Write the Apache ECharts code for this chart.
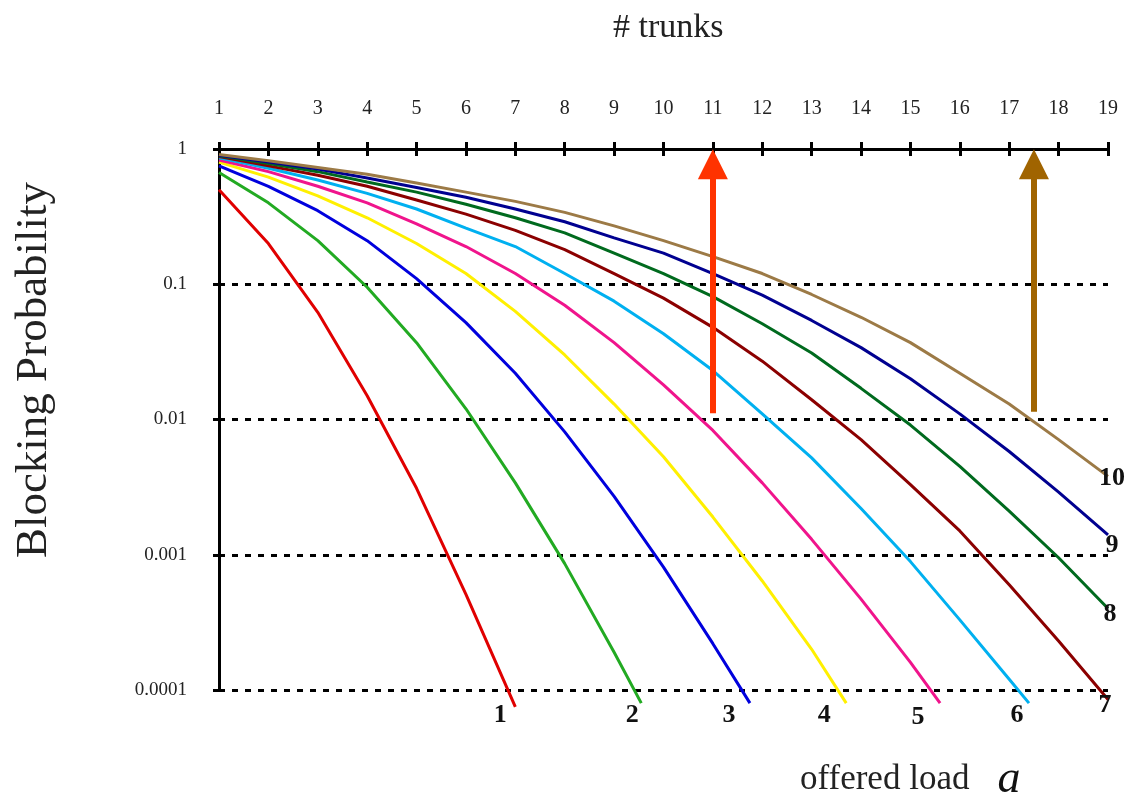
<!DOCTYPE html>
<html>
<head>
    <meta charset="utf-8"/>
    <title>Erlang B</title>
    <script src="https://cdn.jsdelivr.net/npm/echarts@6/dist/echarts.min.js"></script>
    <style>
        html, body { margin: 0; padding: 0; background: #fff; }
    </style>
</head>
<body>
<div id="main" style="width: 1131px; height: 796px;"></div>
<script type="text/javascript">
    // number of trunks on the top axis
    var trunks = [1, 2, 3, 4, 5, 6, 7, 8, 9, 10, 11, 12, 13, 14, 15, 16, 17, 18, 19];
    var yTicks = [0.0001, 0.001, 0.01, 0.1, 1];
    var yTickLabels = ['0.0001', '0.001', '0.01', '0.1', '1'];

    // blocking probability, one value per trunk count (from 1 trunk)
    var load1 = [0.5, 0.2, 0.062, 0.015, 0.0031, 0.00051, 0.000075];
    var load2 = [0.67, 0.40, 0.21, 0.095, 0.037, 0.012, 0.0034, 0.00086, 0.00019];
    var load3 = [0.75, 0.53, 0.35, 0.21, 0.11, 0.052, 0.022, 0.0081, 0.0027, 0.00081, 0.00022];
    var load4 = [0.80, 0.62, 0.45, 0.31, 0.20, 0.12, 0.063, 0.030, 0.013, 0.0053, 0.0019, 0.00064, 0.00020];
    var load5 = [0.83, 0.68, 0.53, 0.40, 0.28, 0.19, 0.12, 0.070, 0.037, 0.018, 0.0083, 0.0034, 0.0013, 0.00047, 0.00016];
    var load6 = [0.86, 0.72, 0.59, 0.47, 0.36, 0.26, 0.19, 0.12, 0.075, 0.043, 0.023, 0.011, 0.0052, 0.0022, 0.00089, 0.00033, 0.00012];
    var load7 = [0.88, 0.75, 0.64, 0.53, 0.42, 0.33, 0.25, 0.18, 0.12, 0.079, 0.048, 0.027, 0.014, 0.0071, 0.0033, 0.0015, 0.0006, 0.00023, 0.000085];
    var load8 = [0.89, 0.78, 0.68, 0.57, 0.48, 0.39, 0.31, 0.24, 0.17, 0.12, 0.081, 0.051, 0.031, 0.017, 0.0091, 0.0045, 0.0021, 0.00095, 0.0004];
    var load9 = [0.90, 0.80, 0.71, 0.61, 0.52, 0.44, 0.36, 0.29, 0.22, 0.17, 0.12, 0.083, 0.054, 0.034, 0.020, 0.011, 0.0058, 0.0029, 0.0014];
    var load10 = [0.91, 0.82, 0.73, 0.65, 0.56, 0.48, 0.41, 0.34, 0.27, 0.21, 0.16, 0.12, 0.084, 0.057, 0.037, 0.022, 0.013, 0.0071, 0.0038];

    // where curves 2..6 run out under the bottom line
    var exitTrunks = [null, 9.55, 11.75, 13.7, 15.6, 17.4, null, null, null, null];
    var exitValue = 0.00008;

    var loadNames = ['1', '2', '3', '4', '5', '6', '7', '8', '9', '10'];

    // the two arrows: trunk position, foot and head of the shaft
    var arrowTrunks = [11, 17.5];
    var arrowFoot = [0.0111, 0.0114];
    var arrowHead = [0.77, 0.77];

    var loads = [load1, load2, load3, load4, load5, load6, load7, load8, load9, load10];
    var colors = ['#E00000', '#22AA22', '#0000DD', '#FFF000', '#F0148C', '#00B0F0',
        '#8B0000', '#006A1E', '#000090', '#9C7A46'];
    var arrowColors = ['#FF3300', '#A06400'];
    // label offset in px from the curve end (held on the bottom line when the end is below it)
    var labelOffsets = [[-15, 26], [-9, 26], [-21, 26], [-22, 26], [-22, 28], [-12, 26],
        [-3, 16], [2, 6], [4, 10], [4, 2]];

    var serif = '"Liberation Serif", "DejaVu Serif", serif';

    var myChart = echarts.init(document.getElementById('main'));

    var series = loads.map(function (vals, i) {
        var pts = vals.map(function (v, k) {
            return [trunks[k], v];
        });
        if (exitTrunks[i] != null) {
            pts.push([exitTrunks[i], exitValue]);
        }
        var last = pts[pts.length - 1];
        var anchor = [last[0], Math.max(last[1], 0.000101)];
        return {
            name: loadNames[i],
            type: 'line',
            data: pts,
            showSymbol: false,
            symbol: 'none',
            clip: false,
            silent: true,
            lineStyle: {color: colors[i], width: 3},
            z: 3,
            markPoint: {
                symbol: 'circle',
                symbolSize: 1,
                silent: true,
                itemStyle: {color: 'rgba(0,0,0,0)'},
                label: {
                    show: true,
                    position: 'inside',
                    offset: labelOffsets[i],
                    formatter: loadNames[i],
                    fontFamily: serif,
                    fontWeight: 'bold',
                    fontSize: 26,
                    color: '#111'
                },
                data: [{coord: anchor}]
            }
        };
    });

    series.push({
        name: 'arrows',
        type: 'line',
        data: [],
        z: 5,
        markLine: {
            silent: true,
            symbol: ['none', 'triangle'],
            symbolSize: [30, 30],
            label: {show: false},
            lineStyle: {type: 'solid', width: 6},
            data: arrowTrunks.map(function (t, i) {
                return [
                    {coord: [t, arrowFoot[i]], lineStyle: {color: arrowColors[i]}, itemStyle: {color: arrowColors[i]}},
                    {coord: [t, arrowHead[i]], itemStyle: {color: arrowColors[i]}}
                ];
            })
        }
    });

    var option = {
        backgroundColor: '#ffffff',
        animation: false,
        title: [
            {
                text: '# trunks',
                left: 608,
                top: 6,
                textStyle: {fontFamily: serif, fontSize: 34, fontWeight: 'normal', color: '#222'}
            },
            {
                text: '{n|offered load}{a|a}',
                left: 795,
                top: 752,
                textStyle: {
                    fontWeight: 'normal',
                    rich: {
                        n: {fontFamily: serif, fontSize: 35, fontWeight: 'normal', color: '#222'},
                        a: {fontFamily: serif, fontSize: 46, fontWeight: 'normal', fontStyle: 'italic', color: '#111', padding: [0, 0, 0, 28]}
                    }
                }
            }
        ],
        graphic: [
            {
                type: 'text',
                x: 34,
                y: 370,
                rotation: Math.PI / 2,
                style: {
                    text: 'Blocking Probability',
                    font: '45px "Liberation Serif", serif',
                    fill: '#222',
                    align: 'center',
                    verticalAlign: 'middle'
                }
            }
        ],
        grid: {left: 219, right: 23, top: 149, bottom: 106, containLabel: false},
        xAxis: [
            {
                type: 'value',
                position: 'top',
                min: 1,
                max: 19,
                interval: 1,
                axisLine: {lineStyle: {color: '#000', width: 3}},
                axisTick: {show: true, inside: false, length: 7, lineStyle: {color: '#000', width: 3}},
                axisLabel: {margin: 30, fontFamily: serif, fontSize: 20, color: '#222'},
                splitLine: {show: false}
            },
            {
                type: 'value',
                position: 'top',
                min: 1,
                max: 19,
                interval: 1,
                axisLine: {show: false},
                axisTick: {show: true, inside: true, length: 7, lineStyle: {color: '#000', width: 3}},
                axisLabel: {show: false},
                splitLine: {show: false}
            }
        ],
        yAxis: {
            type: 'log',
            logBase: 10,
            min: 0.0001,
            max: 1,
            axisLine: {show: true, lineStyle: {color: '#000', width: 3}},
            axisTick: {show: true, length: 6, lineStyle: {color: '#000', width: 3}},
            axisLabel: {
                margin: 32,
                fontFamily: serif,
                fontSize: 19,
                color: '#222',
                formatter: function (v) {
                    for (var i = 0; i < yTicks.length; i++) {
                        if (Math.abs(Math.log10(v) - Math.log10(yTicks[i])) < 0.01) return yTickLabels[i];
                    }
                    return '';
                }
            },
            splitLine: {show: true, lineStyle: {color: '#000', width: 3, type: [6, 7]}}
        },
        series: series
    };

    myChart.setOption(option);
</script>
</body>
</html>
